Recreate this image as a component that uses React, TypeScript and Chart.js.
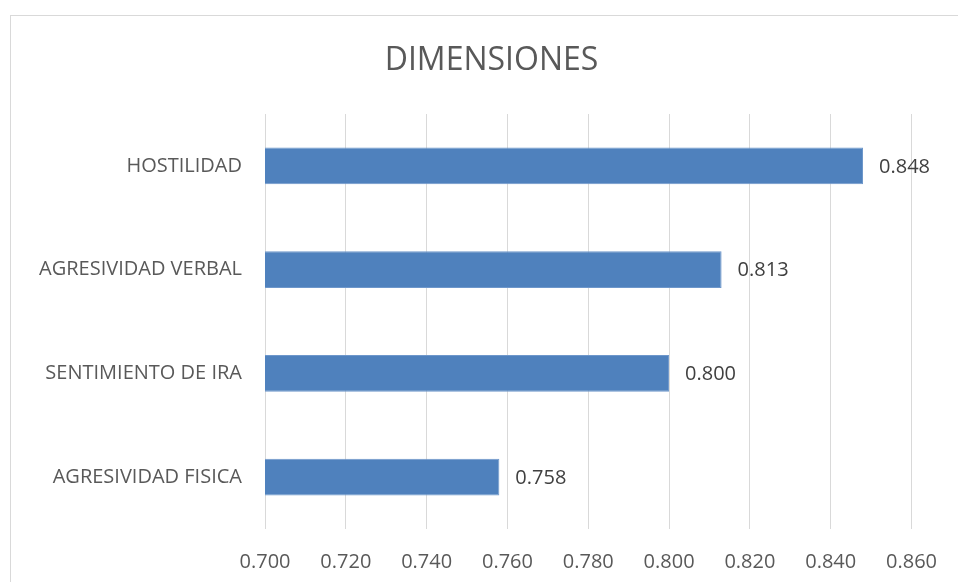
import React, { useEffect, useRef } from "react";
import { Chart, registerables } from "chart.js";

Chart.register(...registerables);

const categories = ["HOSTILIDAD", "AGRESIVIDAD VERBAL", "SENTIMIENTO DE IRA", "AGRESIVIDAD FISICA"];
const values = [0.848, 0.813, 0.8, 0.758];
const xTickValues = [0.7, 0.72, 0.74, 0.76, 0.78, 0.8, 0.82, 0.84, 0.86];
const chartTitle = "DIMENSIONES";

const FONT = "'Open Sans', sans-serif";

const dataLabelPlugin = {
  id: "dataLabels",
  afterDatasetsDraw(chart: any) {
    const ctx = chart.ctx;
    const meta = chart.getDatasetMeta(0);
    ctx.save();
    ctx.font = `20px ${FONT}`;
    ctx.fillStyle = "#404040";
    ctx.textAlign = "left";
    ctx.textBaseline = "middle";
    meta.data.forEach((bar: any, i: number) => {
      ctx.fillText(values[i].toFixed(3), bar.x + 16, bar.y + 1);
    });
    ctx.restore();
  },
};

const titlePlugin = {
  id: "centeredTitle",
  afterDraw(chart: any) {
    const ctx = chart.ctx;
    ctx.save();
    ctx.font = `32px ${FONT}`;
    ctx.fillStyle = "#595959";
    ctx.textAlign = "center";
    ctx.textBaseline = "middle";
    ctx.fillText(chartTitle, 491.5, 61);
    ctx.restore();
  },
};

export default function App() {
  const ref = useRef<HTMLCanvasElement | null>(null);
  useEffect(() => {
    if (!ref.current) return;
    const chart = new Chart(ref.current, {
      type: "bar",
      data: {
        labels: categories,
        datasets: [
          {
            data: values,
            backgroundColor: "#4F81BD",
            borderColor: "#6E97CB",
            borderWidth: 1,
            borderSkipped: false,
            categoryPercentage: 1,
            barPercentage: 0.354,
          },
        ],
      },
      options: {
        indexAxis: "y",
        animation: false,
        responsive: false,
        devicePixelRatio: 1,
        layout: { padding: { left: 0, right: 41, top: 114, bottom: 0 } },
        plugins: {
          legend: { display: false },
          tooltip: { enabled: false },
          title: { display: false },
        },
        scales: {
          x: {
            type: "linear",
            min: 0.7,
            max: 0.86,
            afterBuildTicks(scale: any) {
              scale.ticks = xTickValues.map((v) => ({ value: v }));
            },
            afterFit(scale: any) {
              scale.height = 53;
            },
            ticks: {
              color: "#595959",
              font: { family: FONT, size: 20 },
              padding: 21,
              maxRotation: 0,
              autoSkip: false,
              callback: (v: any) => Number(v).toFixed(3),
            },
            grid: { color: "#D9D9D9", lineWidth: 1, drawTicks: false },
            border: { display: false },
          },
          y: {
            afterFit(scale: any) {
              scale.width = 265;
            },
            ticks: {
              color: "#595959",
              font: { family: FONT, size: 20 },
              padding: 23,
            },
            grid: { display: false, drawTicks: false },
            border: { display: false },
          },
        },
      },
      plugins: [dataLabelPlugin, titlePlugin],
    });
    return () => chart.destroy();
  }, []);

  return (
    <div style={{ position: "absolute", left: 0, top: 0, width: 958, height: 582, overflow: "hidden", background: "#fff" }}>
      <div
        style={{
          position: "absolute",
          left: 10,
          top: 15,
          width: 980,
          height: 600,
          border: "1px solid #D9D9D9",
          boxSizing: "border-box",
        }}
      />
      <canvas ref={ref} width={958} height={582} style={{ position: "absolute", left: 0, top: 0, width: 958, height: 582 }} />
    </div>
  );
}
